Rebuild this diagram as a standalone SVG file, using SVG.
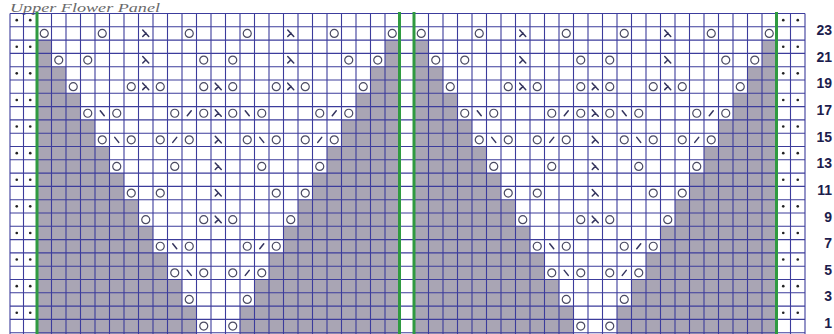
<svg xmlns="http://www.w3.org/2000/svg" width="834" height="334" viewBox="0 0 834 334">
<style>
.grid{fill:none;stroke:#3c3c9c;stroke-width:1.1}
.green{fill:none;stroke:#2f9a40;stroke-width:3}
.shade{fill:#a9a5b4}
.yo{fill:none;stroke:#4a4a62;stroke-width:1.2}
.dec{fill:none;stroke:#34345e;stroke-width:1.5;stroke-linecap:round}
.num{font-family:"Liberation Sans",Arial,sans-serif;font-weight:bold;font-size:14px;fill:#1d1d4d;text-anchor:end}
.title{font-family:"Liberation Serif",serif;font-style:italic;font-size:12.5px;fill:#6a6a6a}
.dot{fill:#222}
</style>
<defs>
<circle id="o" r="4" class="yo"/>
<path id="s" class="dec" d="M-3,-3.5L3,3M0.3,-0.3L-3,3"/>
<path id="f" class="dec" d="M-2,2.5L2,-2.5"/>
<path id="b" class="dec" d="M-2,-2.5L2,2.5"/>
<g id="dots">
<circle class="dot" cx="16.75" r="1.3"/><circle class="dot" cx="30.25" r="1.3"/>
<circle class="dot" cx="783.25" r="1.3"/><circle class="dot" cx="797.75" r="1.3"/>
</g>
<path id="panelShade" class="shade" d="M0,26.6H14.5V53.2H29V79.8H43.5V106.4H58V133H72.5V159.6H87V186.2H101.5V212.8H116V239.4H130.5V266H145V292.6H159.5V322H0Z M362.5,26.6H348V53.2H333.5V79.8H319V106.4H304.5V133H290V159.6H275.5V186.2H261V212.8H246.5V239.4H232V266H217.5V292.6H203V322H362.5Z"/>
<g id="panelSym">
<g transform="translate(0,19.95)">
<use href="#o" x="7.25"/><use href="#o" x="65.25"/><use href="#s" x="108.75"/><use href="#o" x="152.25"/><use href="#o" x="210.25"/><use href="#s" x="253.75"/><use href="#o" x="297.25"/><use href="#o" x="355.25"/>
</g>
<g transform="translate(0,46.55)">
<use href="#o" x="21.75"/><use href="#o" x="50.75"/><use href="#s" x="108.75"/><use href="#o" x="166.75"/><use href="#o" x="195.75"/><use href="#s" x="253.75"/><use href="#o" x="311.75"/><use href="#o" x="340.75"/>
</g>
<g transform="translate(0,73.15)">
<use href="#o" x="36.25"/><use href="#o" x="94.25"/><use href="#s" x="108.75"/><use href="#o" x="123.25"/><use href="#o" x="166.75"/><use href="#s" x="181.25"/><use href="#o" x="195.75"/><use href="#o" x="239.25"/><use href="#s" x="253.75"/><use href="#o" x="268.25"/><use href="#o" x="326.25"/>
</g>
<g transform="translate(0,99.75)">
<use href="#o" x="50.75"/><use href="#b" x="65.25"/><use href="#o" x="79.75"/><use href="#o" x="137.75"/><use href="#f" x="152.25"/><use href="#o" x="166.75"/><use href="#s" x="181.25"/><use href="#o" x="195.75"/><use href="#b" x="210.25"/><use href="#o" x="224.75"/><use href="#o" x="282.75"/><use href="#f" x="297.25"/><use href="#o" x="311.75"/>
</g>
<g transform="translate(0,126.35)">
<use href="#o" x="65.25"/><use href="#b" x="79.75"/><use href="#o" x="94.25"/><use href="#o" x="123.25"/><use href="#f" x="137.75"/><use href="#o" x="152.25"/><use href="#s" x="181.25"/><use href="#o" x="210.25"/><use href="#b" x="224.75"/><use href="#o" x="239.25"/><use href="#o" x="268.25"/><use href="#f" x="282.75"/><use href="#o" x="297.25"/>
</g>
<g transform="translate(0,152.95)">
<use href="#o" x="79.75"/><use href="#o" x="137.75"/><use href="#s" x="181.25"/><use href="#o" x="224.75"/><use href="#o" x="282.75"/>
</g>
<g transform="translate(0,179.55)">
<use href="#o" x="94.25"/><use href="#o" x="123.25"/><use href="#s" x="181.25"/><use href="#o" x="239.25"/><use href="#o" x="268.25"/>
</g>
<g transform="translate(0,206.15)">
<use href="#o" x="108.75"/><use href="#o" x="166.75"/><use href="#s" x="181.25"/><use href="#o" x="195.75"/><use href="#o" x="253.75"/>
</g>
<g transform="translate(0,232.75)">
<use href="#o" x="123.25"/><use href="#b" x="137.75"/><use href="#o" x="152.25"/><use href="#o" x="210.25"/><use href="#f" x="224.75"/><use href="#o" x="239.25"/>
</g>
<g transform="translate(0,259.35)">
<use href="#o" x="137.75"/><use href="#b" x="152.25"/><use href="#o" x="166.75"/><use href="#o" x="195.75"/><use href="#f" x="210.25"/><use href="#o" x="224.75"/>
</g>
<g transform="translate(0,285.95)">
<use href="#o" x="152.25"/><use href="#o" x="210.25"/>
</g>
<g transform="translate(0,312.55)">
<use href="#o" x="166.75"/><use href="#o" x="195.75"/>
</g>
</g>
</defs>
<rect width="834" height="334" fill="#ffffff"/>
<text class="title" x="10" y="11.6" textLength="150" lengthAdjust="spacingAndGlyphs">Upper Flower Panel</text>
<g id="shading">
<use href="#panelShade" transform="translate(37,13.5)"/>
<use href="#panelShade" transform="translate(414,13.5)"/>
</g>
<g id="grid">
<path class="grid" d="M10,13.5V334M23.5,13.5V334M51.5,13.5V334M66,13.5V334M80.5,13.5V334M95,13.5V334M109.5,13.5V334M124,13.5V334M138.5,13.5V334M153,13.5V334M167.5,13.5V334M182,13.5V334M196.5,13.5V334M211,13.5V334M225.5,13.5V334M240,13.5V334M254.5,13.5V334M269,13.5V334M283.5,13.5V334M298,13.5V334M312.5,13.5V334M327,13.5V334M341.5,13.5V334M356,13.5V334M370.5,13.5V334M385,13.5V334M428.5,13.5V334M443,13.5V334M457.5,13.5V334M472,13.5V334M486.5,13.5V334M501,13.5V334M515.5,13.5V334M530,13.5V334M544.5,13.5V334M559,13.5V334M573.5,13.5V334M588,13.5V334M602.5,13.5V334M617,13.5V334M631.5,13.5V334M646,13.5V334M660.5,13.5V334M675,13.5V334M689.5,13.5V334M704,13.5V334M718.5,13.5V334M733,13.5V334M747.5,13.5V334M762,13.5V334M790.5,13.5V334M805,13.5V334"/>
<path class="grid" d="M10,13.5H805M10,26.8H805M10,40.1H805M10,53.4H805M10,66.7H805M10,80H805M10,93.3H805M10,106.6H805M10,119.9H805M10,133.2H805M10,146.5H805M10,159.8H805M10,173.1H805M10,186.4H805M10,199.7H805M10,213H805M10,226.3H805M10,239.6H805M10,252.9H805M10,266.2H805M10,279.5H805M10,292.8H805M10,306.1H805M10,319.4H805M10,332.7H805"/>
</g>
<g id="green-lines">
<path class="green" d="M37,12V334M399.5,12V334M414,12V334M776.5,12V334"/>
</g>
<g id="edge-dots">
<use href="#dots" y="20.15"/><use href="#dots" y="46.75"/><use href="#dots" y="73.35"/><use href="#dots" y="99.95"/><use href="#dots" y="126.55"/><use href="#dots" y="153.15"/><use href="#dots" y="179.75"/><use href="#dots" y="206.35"/><use href="#dots" y="232.95"/><use href="#dots" y="259.55"/><use href="#dots" y="286.15"/><use href="#dots" y="312.75"/>
</g>
<g id="symbols">
<use href="#panelSym" transform="translate(37,13.5)"/>
<use href="#panelSym" transform="translate(414,13.5)"/>
</g>
<g id="row-numbers">
<text class="num" x="832" y="35">23</text>
<text class="num" x="832" y="61.6">21</text>
<text class="num" x="832" y="88.3">19</text>
<text class="num" x="832" y="114.9">17</text>
<text class="num" x="832" y="141.6">15</text>
<text class="num" x="832" y="168.2">13</text>
<text class="num" x="832" y="194.8">11</text>
<text class="num" x="832" y="221.5">9</text>
<text class="num" x="832" y="248.1">7</text>
<text class="num" x="832" y="274.7">5</text>
<text class="num" x="832" y="301.4">3</text>
<text class="num" x="832" y="328">1</text>
</g>
</svg>
